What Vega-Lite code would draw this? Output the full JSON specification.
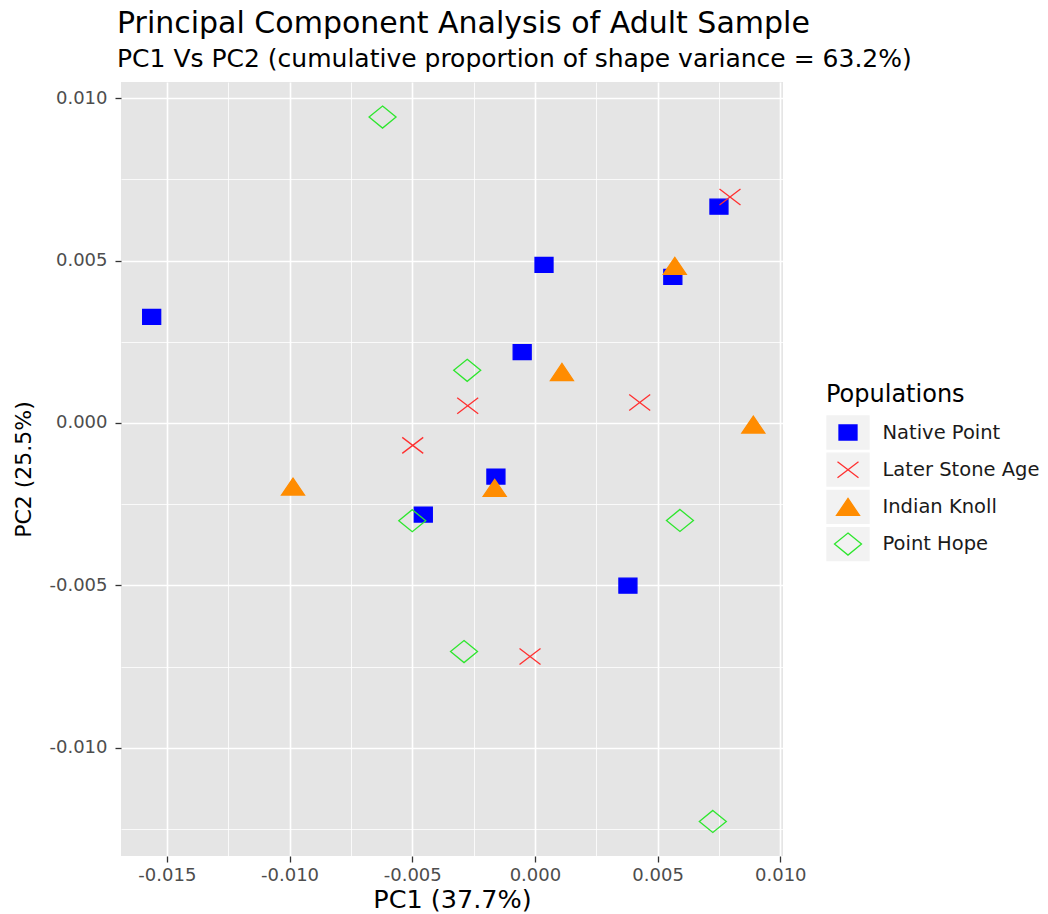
{
  "$schema": "https://vega.github.io/schema/vega-lite/v6.json",
  "autosize": {"type": "none"},
  "width": 662,
  "height": 774,
  "padding": {"left": 121, "top": 82, "right": 265, "bottom": 58},
  "background": "white",
  "config": {
    "font": "DejaVu Sans",
    "view": {"fill": "#E5E5E5", "stroke": null},
    "legend": {
      "orient": "none",
      "legendX": 705,
      "legendY": 301,
      "padding": 0,
      "titleFontSize": 24,
      "titleFontWeight": "normal",
      "titleColor": "black",
      "titlePadding": 8,
      "labelFontSize": 19.5,
      "labelColor": "#1A1A1A",
      "symbolSize": 1089,
      "symbolStrokeWidth": 1.3,
      "symbolOffset": 4.5,
      "labelOffset": 17,
      "rowPadding": -1.8
    }
  },
  "title": {
    "text": "Principal Component Analysis of Adult Sample",
    "subtitle": "PC1 Vs PC2 (cumulative proportion of shape variance = 63.2%)",
    "anchor": "start",
    "frame": "group",
    "fontSize": 30,
    "fontWeight": "normal",
    "color": "black",
    "subtitleFontSize": 25,
    "subtitleColor": "black",
    "subtitlePadding": 8,
    "offset": 10,
    "dx": -4
  },
  "data": {
    "values": [
      {"Population": "Native Point", "PC1": -0.01562, "PC2": 0.00327},
      {"Population": "Native Point", "PC1": 0.00037, "PC2": 0.00487},
      {"Population": "Native Point", "PC1": -0.00052, "PC2": 0.00218},
      {"Population": "Native Point", "PC1": 0.0075, "PC2": 0.00666},
      {"Population": "Native Point", "PC1": 0.00562, "PC2": 0.0045},
      {"Population": "Native Point", "PC1": -0.00159, "PC2": -0.00165},
      {"Population": "Native Point", "PC1": -0.00455, "PC2": -0.00282},
      {"Population": "Native Point", "PC1": 0.00379, "PC2": -0.00501},
      {"Population": "Later Stone Age", "PC1": 0.00795, "PC2": 0.00696},
      {"Population": "Later Stone Age", "PC1": -0.00274, "PC2": 0.00053},
      {"Population": "Later Stone Age", "PC1": 0.00427, "PC2": 0.00063},
      {"Population": "Later Stone Age", "PC1": -0.00498, "PC2": -0.00069},
      {"Population": "Later Stone Age", "PC1": -0.0002, "PC2": -0.00719},
      {"Population": "Indian Knoll", "PC1": 0.0057, "PC2": 0.00484},
      {"Population": "Indian Knoll", "PC1": 0.0011, "PC2": 0.00157},
      {"Population": "Indian Knoll", "PC1": 0.0089, "PC2": -0.00005},
      {"Population": "Indian Knoll", "PC1": -0.00986, "PC2": -0.00196},
      {"Population": "Indian Knoll", "PC1": -0.00164, "PC2": -0.002},
      {"Population": "Point Hope", "PC1": -0.00621, "PC2": 0.00942},
      {"Population": "Point Hope", "PC1": -0.00276, "PC2": 0.00162},
      {"Population": "Point Hope", "PC1": -0.005, "PC2": -0.00301},
      {"Population": "Point Hope", "PC1": 0.00591, "PC2": -0.003},
      {"Population": "Point Hope", "PC1": -0.00289, "PC2": -0.00704},
      {"Population": "Point Hope", "PC1": 0.00725, "PC2": -0.01227}
    ]
  },
  "resolve": {"axis": {"x": "independent", "y": "independent"}},
  "layer": [
    {
      "transform": [{"filter": "false"}],
      "mark": {"type": "point", "filled": true, "opacity": 1},
      "encoding": {
        "x": {
          "field": "PC1", "type": "quantitative",
          "scale": {"domain": [-0.01687, 0.01011], "nice": false, "zero": false},
          "axis": {"orient": "bottom", "values": [-0.0125, -0.0075, -0.0025, 0.0025, 0.0075], "grid": true, "gridColor": "white", "gridWidth": 0.8, "labels": false, "ticks": false, "domain": false, "title": null, "zindex": 0}
        },
        "y": {
          "field": "PC2", "type": "quantitative",
          "scale": {"domain": [-0.013335, 0.0105], "nice": false, "zero": false},
          "axis": {"orient": "left", "values": [0.0075, 0.0025, -0.0025, -0.0075, -0.0125], "grid": true, "gridColor": "white", "gridWidth": 0.8, "labels": false, "ticks": false, "domain": false, "title": null, "zindex": 0}
        },
        "color": {
          "field": "Population", "type": "nominal",
          "scale": {"domain": ["Point Hope", "Indian Knoll", "Later Stone Age", "Native Point"], "range": ["#F2F2F2"]},
          "legend": {
            "title": " ",
            "titleOpacity": 0,
            "labelOpacity": 0,
            "labelExpr": "''",
            "symbolOpacity": 1,
            "symbolType": "M-1.273,-1H1.273V1H-1.273Z",
            "symbolFillColor": "#F2F2F2",
            "symbolStrokeColor": "#F2F2F2",
            "symbolStrokeWidth": 1.3
          }
        }
      }
    },
    {
      "mark": {"type": "point", "size": 1089, "strokeWidth": 1.3, "opacity": 1},
      "encoding": {
        "x": {
          "field": "PC1", "type": "quantitative",
          "axis": {
            "orient": "bottom", "values": [-0.015, -0.01, -0.005, 0, 0.005, 0.01],
            "format": ".3f", "labelExpr": "replace(datum.label, '\u2212', '-')",
            "grid": true, "gridColor": "white", "gridWidth": 1.6, "domain": false,
            "ticks": true, "tickColor": "#333333", "tickSize": 6, "tickWidth": 1.3,
            "labelFontSize": 18, "labelColor": "#4D4D4D", "labelPadding": 4,
            "title": "PC1 (37.7%)", "titleFontSize": 25.5, "titleFontWeight": "normal", "titleColor": "black", "titlePadding": 3, "zindex": 0
          }
        },
        "y": {
          "field": "PC2", "type": "quantitative",
          "axis": {
            "orient": "left", "values": [-0.01, -0.005, 0, 0.005, 0.01],
            "format": ".3f", "labelExpr": "replace(datum.label, '\u2212', '-')",
            "grid": true, "gridColor": "white", "gridWidth": 1.6, "domain": false,
            "ticks": true, "tickColor": "#333333", "tickSize": 6, "tickWidth": 1.3,
            "labelFontSize": 18, "labelColor": "#4D4D4D", "labelPadding": 8,
            "title": "PC2 (25.5%)", "titleFontSize": 22, "titleFontWeight": "normal", "titleColor": "black", "titlePadding": 13, "zindex": 0
          }
        },
        "shape": {
          "field": "Population", "type": "nominal",
          "scale": {
            "domain": ["Native Point", "Later Stone Age", "Indian Knoll", "Point Hope"],
            "range": [
              "M-0.5455,-0.4545H0.5455V0.4545H-0.5455ZM-1.273,-1M1.273,1",
              "M-0.636,-0.485L0.636,0.485M-0.636,0.485L0.636,-0.485M-1.273,-1M1.273,1",
              "M0,-0.515L0.697,0.515L-0.697,0.515ZM-1.273,-1M1.273,1",
              "M0,-0.667L0.818,0L0,0.667L-0.818,0ZM-1.273,-1M1.273,1"
            ]
          },
          "legend": {"title": "Populations"}
        },
        "fill": {
          "field": "Population", "type": "nominal",
          "scale": {
            "domain": ["Native Point", "Later Stone Age", "Indian Knoll", "Point Hope"],
            "range": ["#0000FF", "transparent", "#FF8C00", "transparent"]
          },
          "legend": {"title": "Populations"}
        },
        "stroke": {
          "field": "Population", "type": "nominal",
          "scale": {
            "domain": ["Native Point", "Later Stone Age", "Indian Knoll", "Point Hope"],
            "range": ["#0000FF", "#FF3030", "#FF8C00", "#2EE62E"]
          },
          "legend": {"title": "Populations"}
        }
      }
    }
  ]
}
